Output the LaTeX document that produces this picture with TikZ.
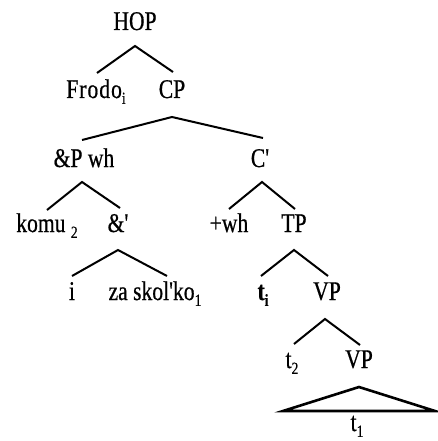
\documentclass[tikz,border=0pt]{standalone}
\usepackage{fontspec}
\newfontfamily\tf[FakeStretch=0.8,FakeBold=0.6,Ligatures=TeXOff]{Liberation Serif}
\newcommand\lowsub[1]{\raisebox{-0.22em}{\fontsize{17}{17}\selectfont #1}}
\begin{document}
\begin{tikzpicture}[x=1pt,y=-1pt,
  lbl/.style={anchor=base,inner sep=0pt,font=\tf\fontsize{27}{31}\selectfont},
  br/.style={line width=2pt,line join=miter},
  tri/.style={line width=2.6pt,line join=miter}]
\useasboundingbox (0,0) rectangle (437,441);
% labels
\node[lbl] (hop) at (135,30) {HOP};
\node[lbl] (frodo) at (96,98) {F\kern1pt r\kern1pt o\kern1pt d\kern1pt o\lowsub{i}};
\node[lbl] (cp) at (172,98) {CP};
\node[lbl] (andp) at (84,167) {\&P wh};
\node[lbl] (cbar) at (260,167) {C'};
\node[lbl] (komu) at (47,232) {komu \lowsub{2}};
\node[lbl] (andbar) at (118,232) {\&'};
\node[lbl] (wh) at (229,232) {+wh};
\node[lbl] (tp) at (294,232) {TP};
\node[lbl] (i) at (72,300) {i};
\node[lbl] (za) at (155,300) {za skol'ko\lowsub{1}};
\node[lbl] (ti) at (263,300) {\bfseries t\lowsub{i}};
\node[lbl] (vp1) at (327,300) {VP};
\node[lbl] (t2) at (292,368) {t\lowsub{2}};
\node[lbl] (vp2) at (359,368) {VP};
\node[lbl] (t1) at (357,431) {t\lowsub{1}};
% branch points
\coordinate (a0) at (135,46);  \coordinate (a0l) at (97,73);  \coordinate (a0r) at (173,72);
\coordinate (a1) at (172,117); \coordinate (a1l) at (82,140); \coordinate (a1r) at (263,138);
\coordinate (a2) at (82,182);  \coordinate (a2l) at (47,210); \coordinate (a2r) at (120,208);
\coordinate (a3) at (262,182); \coordinate (a3l) at (229,209); \coordinate (a3r) at (295,209);
\coordinate (a4) at (118,250); \coordinate (a4l) at (72,276); \coordinate (a4r) at (167,276);
\coordinate (a5) at (294,250); \coordinate (a5l) at (261,276); \coordinate (a5r) at (328,276);
\coordinate (a6) at (325,319); \coordinate (a6l) at (294,344); \coordinate (a6r) at (360,345);
\coordinate (t0) at (359,387); \coordinate (t0l) at (283,411); \coordinate (t0r) at (435,411);
% branches
\draw[br] (a0l) -- (a0) -- (a0r);
\draw[br] (a1l) -- (a1) -- (a1r);
\draw[br] (a2l) -- (a2) -- (a2r);
\draw[br] (a3l) -- (a3) -- (a3r);
\draw[br] (a4l) -- (a4) -- (a4r);
\draw[br] (a5l) -- (a5) -- (a5r);
\draw[br] (a6l) -- (a6) -- (a6r);
\draw[tri] (t0l) -- (t0) -- (t0r) -- cycle;
\end{tikzpicture}
\end{document}
